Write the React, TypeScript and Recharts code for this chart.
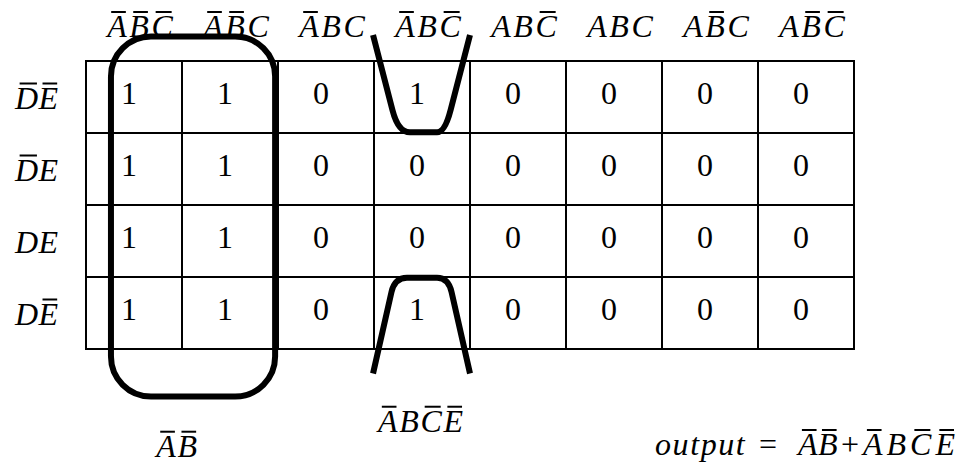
import { ScatterChart, Scatter, XAxis, YAxis, ReferenceLine, ReferenceArea, ReferenceDot } from 'recharts';

// "~" marks a complemented variable (drawn with an overbar)
const colTerms = ['~A~B~C', '~A~BC', '~ABC', '~AB~C', 'AB~C', 'ABC', 'A~BC', 'A~B~C'];
const rowTerms = ['~D~E', '~DE', 'DE', 'D~E'];

const row0 = [1, 1, 0, 1, 0, 0, 0, 0];
const row1 = [1, 1, 0, 0, 0, 0, 0, 0];
const row2 = [1, 1, 0, 0, 0, 0, 0, 0];
const row3 = [1, 1, 0, 1, 0, 0, 0, 0];
const cellRows = [row0, row1, row2, row3];

// product terms picked out by the loops, in the order of the output expression
const groupTerms = ['~A~B', '~AB~C~E'];

// loop outlines in cell units (column, row)
const loops = [
  { kind: 'rect', x1: 0.26, x2: 1.97, y1: -0.34, y2: 4.66 },
  { kind: 'cup', x1: 2.99, x2: 4.0, y1: -0.36, y2: 0.99 },
  { kind: 'cap', x1: 2.99, x2: 4.0, y1: 3.01, y2: 4.34 },
];
// where each group name sits (centre of the term, baseline)
const groupLabelAt = [
  { x: 0.945, y: 5.496 },
  { x: 3.484, y: 5.149 },
];
const outputAt = { x: 5.927, y: 5.472 };

const FONT = "'Liberation Serif', 'Times New Roman', serif";
const FS = 32;
const ADV: Record<string, number> = { A: 0.611, B: 0.611, C: 0.667, D: 0.722, E: 0.611 };

const colEdges = colTerms.map((_, i) => i).concat(colTerms.length);
const rowEdges = rowTerms.map((_, i) => i).concat(rowTerms.length);
const colCenters = colTerms.map((_, i) => i + 0.5);
const rowCenters = rowTerms.map((_, i) => i + 0.5);
const cells = cellRows.flatMap((row, r) => row.map((v, c) => ({ x: c + 0.5, y: r + 0.5, v })));

function parseTerm(term: string) {
  const out: { ch: string; bar: boolean }[] = [];
  for (let i = 0; i < term.length; i++) {
    if (term[i] === '~') {
      out.push({ ch: term[i + 1], bar: true });
      i++;
    } else out.push({ ch: term[i], bar: false });
  }
  return out;
}

function Term({ x, y, term, gap = 2, anchor = 'start' }: { x: number; y: number; term: string; gap?: number; anchor?: string }) {
  const parts = parseTerm(term);
  const total = parts.reduce((s, p) => s + ADV[p.ch] * FS, 0) + gap * (parts.length - 1);
  let cx = anchor === 'middle' ? x - total / 2 : x;
  return (
    <g>
      {parts.map((p, i) => {
        const w = ADV[p.ch] * FS;
        const x0 = cx;
        cx += w + gap;
        return (
          <g key={i}>
            <text x={x0} y={y} fontFamily={FONT} fontSize={FS} fontStyle="italic" fill="#000">
              {p.ch}
            </text>
            {p.bar && <line x1={x0 + 0.2 * w} x2={x0 + 0.95 * w} y1={y - 25} y2={y - 25} stroke="#000" strokeWidth={2} />}
          </g>
        );
      })}
    </g>
  );
}

const HeaderTick = (props: any) => <Term x={props.x + 6} y={props.y - 24} term={colTerms[props.index]} gap={2.5} anchor="middle" />;
const RowTick = (props: any) => <Term x={props.x - 71} y={props.y + 11.5} term={rowTerms[props.index]} gap={0.5} />;

const CellValue = (props: any) => (
  <text x={props.cx - 5} y={props.cy + 7} textAnchor="middle" fontFamily={FONT} fontSize={FS} fill="#000">
    {props.payload.v}
  </text>
);

function loopShape(kind: string) {
  return (props: any) => {
    const { x, y, width: w, height: h } = props;
    if (kind === 'rect') {
      return <rect x={x} y={y} width={w} height={h} rx={40} ry={40} fill="none" stroke="#000" strokeWidth={6} />;
    }
    // cup opens upwards, cap opens downwards
    const fy = (f: number) => (kind === 'cup' ? y + f * h : y + (1 - f) * h);
    const bend = kind === 'cup' ? 0.77 : 0.85;
    const side = kind === 'cup' ? 0.2 : 0.19;
    const ctl = side + (1 - bend) * (side / bend);
    const flatL = kind === 'cup' ? 0.38 : 0.35;
    const flatR = 0.66;
    const pt = (fx: number, f: number) => `${x + fx * w},${fy(f)}`;
    const d =
      `M${pt(0, 0)} L${pt(side, bend)} Q${pt(ctl, 1)} ${pt(flatL, 1)} L${pt(flatR, 1)} ` +
      `Q${pt(1 - ctl, 1)} ${pt(1 - side, bend)} L${pt(1, 0)}`;
    return <path d={d} fill="none" stroke="#000" strokeWidth={6} strokeLinejoin="round" />;
  };
}

const GroupLabel = (term: string) => (props: any) => (
  <Term x={props.viewBox.x} y={props.viewBox.y} term={term} gap={1.7} anchor="middle" />
);

const OutputLabel = (props: any) => {
  const { x, y } = props.viewBox;
  return (
    <g>
      <text x={x} y={y} fontFamily={FONT} fontSize={FS} fontStyle="italic" letterSpacing={1.6} fill="#000">
        output
      </text>
      <text x={x + 104} y={y} fontFamily={FONT} fontSize={FS} fill="#000">
        =
      </text>
      <Term x={x + 143} y={y} term={groupTerms[0]} gap={0.5} />
      <text x={x + 186} y={y} fontFamily={FONT} fontSize={FS} fill="#000">
        +
      </text>
      <Term x={x + 208} y={y} term={groupTerms[1]} gap={4} />
    </g>
  );
};

export default function App() {
  return (
    <div style={{ position: 'absolute', left: 0, top: 0 }}>
      <ScatterChart width={964} height={470} margin={{ top: 21, right: 110, bottom: 121, left: 16 }}>
        <XAxis
          type="number"
          dataKey="x"
          domain={[0, colTerms.length]}
          ticks={colCenters}
          interval={0}
          orientation="top"
          height={40}
          axisLine={false}
          tickLine={false}
          tickSize={0}
          tickMargin={0}
          tick={HeaderTick}
        />
        <YAxis
          type="number"
          dataKey="y"
          domain={[0, rowTerms.length]}
          reversed
          ticks={rowCenters}
          interval={0}
          width={70}
          axisLine={false}
          tickLine={false}
          tickSize={0}
          tickMargin={0}
          tick={RowTick}
        />
        {colEdges.map((v) => (
          <ReferenceLine key={'c' + v} x={v} stroke="#000" strokeWidth={2} strokeLinecap="square" />
        ))}
        {rowEdges.map((v) => (
          <ReferenceLine key={'r' + v} y={v} stroke="#000" strokeWidth={2} strokeLinecap="square" />
        ))}
        <Scatter data={cells} isAnimationActive={false} shape={CellValue} />
        {loops.map((l, i) => (
          <ReferenceArea key={'l' + i} x1={l.x1} x2={l.x2} y1={l.y1} y2={l.y2} ifOverflow="visible" shape={loopShape(l.kind)} />
        ))}
        {groupTerms.map((t, i) => (
          <ReferenceDot key={'g' + i} x={groupLabelAt[i].x} y={groupLabelAt[i].y} r={0} ifOverflow="visible" label={GroupLabel(t)} />
        ))}
        <ReferenceDot x={outputAt.x} y={outputAt.y} r={0} ifOverflow="visible" label={OutputLabel} />
      </ScatterChart>
    </div>
  );
}
